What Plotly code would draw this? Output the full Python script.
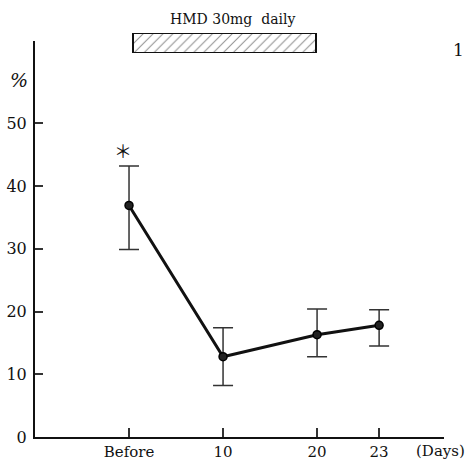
import plotly.graph_objects as go

# Time points (axis positions) and their labels
x_labels = ["Before", "10", "20", "23"]
x_pos = [0, 1, 2, 2.66]

# Mean values (%) with upper / lower error limits
mean_vals = [36.9, 12.8, 16.3, 17.8]
upper_vals = [43.2, 17.4, 20.4, 20.3]
lower_vals = [29.9, 8.2, 12.8, 14.5]

# Treatment period bar (axis positions)
treat_start = 0.04
treat_end = 1.99

y_ticks = [0, 10, 20, 30, 40, 50]

err_plus = [u - m for u, m in zip(upper_vals, mean_vals)]
err_minus = [m - l for m, l in zip(mean_vals, lower_vals)]

serif = "DejaVu Serif"

fig = go.Figure()

fig.add_trace(go.Scatter(
    x=x_pos, y=mean_vals,
    mode="lines+markers",
    line=dict(color="#111111", width=3),
    marker=dict(size=8, color="#222222", line=dict(color="#000000", width=1.5)),
    error_y=dict(type="data", symmetric=False, array=err_plus, arrayminus=err_minus,
                 color="#333333", thickness=1.5, width=10),
    showlegend=False, cliponaxis=False,
))

# Hatched bar marking the dosing period
fig.add_trace(go.Bar(
    x=[treat_end - treat_start], base=[treat_start], y=[0.5],
    orientation="h", width=1, yaxis="y2",
    marker=dict(color="white", line=dict(color="#111111", width=2),
                pattern=dict(shape="/", size=7, solidity=0.15, fgcolor="#222222",
                             bgcolor="white")),
    showlegend=False, hoverinfo="skip",
))

fig.update_layout(
    width=467, height=462,
    margin=dict(l=35, r=23, t=33, b=24.5, autoexpand=False),
    paper_bgcolor="white", plot_bgcolor="white",
    font=dict(family=serif, color="#111111", size=15),
    xaxis=dict(range=[-1.0, 3.35], tickvals=x_pos, ticktext=x_labels,
               showgrid=False, zeroline=False, showline=True, linecolor="#111111",
               linewidth=2, ticks="inside", ticklen=9, tickcolor="#333333",
               tickwidth=1.5, tickfont=dict(size=15, family=serif),
               ticklabelstandoff=0, automargin=False),
    yaxis=dict(range=[0, 63.1], domain=[0, 0.98], tickvals=y_ticks,
               showgrid=False, zeroline=False, showline=True, linecolor="#111111",
               linewidth=2, ticks="inside", ticklen=8, tickcolor="#333333",
               tickwidth=1.5, tickfont=dict(size=16, family=serif),
               ticklabelstandoff=3, automargin=False),
    yaxis2=dict(range=[0, 1], domain=[0.9506, 1.0], visible=False, fixedrange=True,
                automargin=False),
    bargap=0,
)

fig.add_annotation(text="HMD 30mg  daily", xref="paper", yref="paper",
                   x=(232 - 35) / 409, y=1.0, yanchor="bottom", xanchor="center",
                   yshift=4, showarrow=False, font=dict(size=14, family=serif))
fig.add_annotation(text="<i>%</i>", xref="paper", yref="paper",
                   x=-0.04, y=(437.5 - 80) / 404.5, xanchor="center", yanchor="middle",
                   showarrow=False, font=dict(size=19, family=serif))
fig.add_annotation(text="＊", x=x_pos[0], y=upper_vals[0], yshift=16, xshift=-6,
                   showarrow=False, font=dict(size=18, family="Noto Sans CJK JP"))
fig.add_annotation(text="(Days)", xref="paper", yref="paper",
                   x=(440 - 35) / 409, y=0, yshift=-14, xanchor="center", yanchor="middle",
                   showarrow=False, font=dict(size=15, family=serif))
fig.add_annotation(text="1", xref="paper", yref="paper",
                   x=(459 - 35) / 409, y=(437.5 - 50) / 404.5, xanchor="center",
                   yanchor="middle", showarrow=False, font=dict(size=17, family=serif))

fig.write_html("out.html")
